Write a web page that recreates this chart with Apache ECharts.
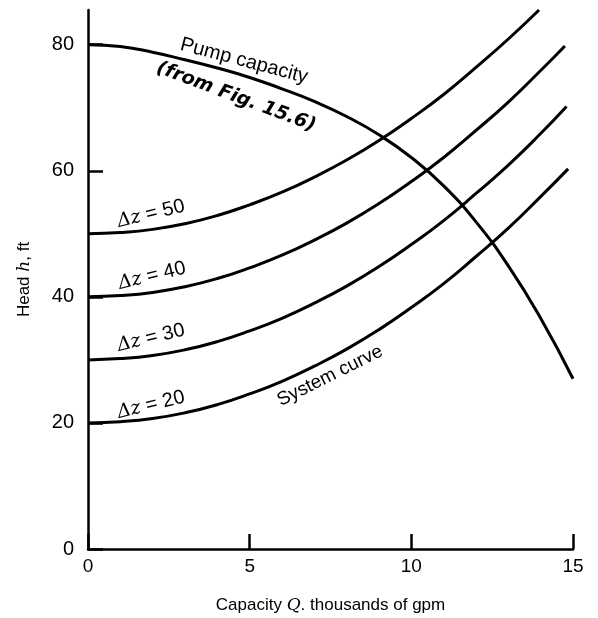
<!DOCTYPE html>
<html>
<head>
<meta charset="utf-8">
<script src="https://cdn.jsdelivr.net/npm/echarts@6/dist/echarts.min.js"></script>
<style>html,body{margin:0;padding:0;background:#fff;}#c{width:598px;height:618px;}</style>
</head>
<body>
<div id="c"></div>
<script>
// Capacity Q (thousands of gpm)
var pumpQ = [0, 1, 2, 3, 4, 5, 6, 7, 8, 9, 10, 11, 12, 13, 14, 15];
var pumpH = [80, 79.7, 78.8, 77.6, 76.3, 74.8, 73.0, 71.0, 68.6, 65.7, 62.1, 57.6, 51.9, 44.9, 36.6, 27.0];

var sysQ50 = [0, 1, 2, 3, 4, 5, 6, 7, 8, 9, 10, 11, 12, 13, 13.95];
var sysH50 = [50, 50.2, 50.7, 51.6, 52.9, 54.6, 56.6, 59.0, 61.7, 64.8, 68.3, 72.1, 76.4, 80.9, 85.5];
var sysQ40 = [0, 1, 2, 3, 4, 5, 6, 7, 8, 9, 10, 11, 12, 13, 14, 14.75];
var sysH40 = [40, 40.2, 40.7, 41.6, 42.9, 44.6, 46.6, 49.0, 51.7, 54.8, 58.3, 62.1, 66.4, 70.9, 75.9, 79.8];
var sysQ30 = [0, 1, 2, 3, 4, 5, 6, 7, 8, 9, 10, 11, 12, 13, 14, 14.8];
var sysH30 = [30, 30.2, 30.7, 31.6, 32.9, 34.6, 36.6, 39.0, 41.7, 44.8, 48.3, 52.1, 56.4, 60.9, 65.9, 70.2];
var sysQ20 = [0, 1, 2, 3, 4, 5, 6, 7, 8, 9, 10, 11, 12, 13, 14, 14.85];
var sysH20 = [20, 20.2, 20.7, 21.6, 22.9, 24.6, 26.6, 29.0, 31.7, 34.8, 38.3, 42.1, 46.4, 50.9, 55.9, 60.3];

var xTicks = [0, 5, 10, 15];
var yTicks = [0, 20, 40, 60, 80];
var dzLabels = ['50', '40', '30', '20'];

function pairs(xs, ys) { return xs.map(function (x, i) { return [x, ys[i]]; }); }

var chart = echarts.init(document.getElementById('c'));
var sans = "'Liberation Sans', Arial, sans-serif";
var serif = "'DejaVu Serif', serif";
var lineStyle = { color: '#000', width: 3 };

function dzText(label, x, y) {
  return {
    type: 'text', x: x, y: y, rotation: 0.24,
    style: {
      text: '{d|Δz} = ' + label, x: 0, y: 0, align: 'center', verticalAlign: 'middle',
      fontSize: 20, fontFamily: sans, fill: '#000',
      rich: { d: { fontSize: 19, fontFamily: serif, fontStyle: 'italic', fill: '#000' } }
    }
  };
}

function curve(xs, ys) {
  return { type: 'line', data: pairs(xs, ys), smooth: 0.5, symbol: 'none', lineStyle: lineStyle };
}

var option = {
  backgroundColor: '#fff',
  animation: false,
  grid: { left: 88, right: 25, top: 10, bottom: 69, containLabel: false, outerBoundsMode: 'none' },
  xAxis: {
    type: 'value', min: 0, max: 15,
    name: '{n|Capacity }{i|Q}{n|. thousands of gpm}',
    nameLocation: 'middle', nameGap: 48,
    nameTextStyle: {
      rich: {
        n: { fontSize: 17, fontFamily: sans, color: '#000' },
        i: { fontSize: 17, fontFamily: serif, fontStyle: 'italic', color: '#000' }
      }
    },
    axisLine: { lineStyle: { color: '#000', width: 2.5 } },
    axisTick: { inside: true, length: 15, customValues: xTicks, lineStyle: { color: '#000', width: 2.5 } },
    axisLabel: { customValues: xTicks, color: '#000', fontSize: 19, fontFamily: sans, margin: 8 },
    splitLine: { show: false }
  },
  yAxis: {
    type: 'value', min: 0, max: 85.5,
    name: '{n|Head }{i|h}{n|, ft}',
    nameLocation: 'middle', nameGap: 55,
    nameTextStyle: {
      rich: {
        n: { fontSize: 17, fontFamily: sans, color: '#000' },
        i: { fontSize: 17, fontFamily: serif, fontStyle: 'italic', color: '#000' }
      }
    },
    axisLine: { lineStyle: { color: '#000', width: 2.5 } },
    axisTick: { inside: true, length: 15, customValues: yTicks, lineStyle: { color: '#000', width: 2.5 } },
    axisLabel: { customValues: yTicks, color: '#000', fontSize: 20, fontFamily: sans, margin: 14 },
    splitLine: { show: false }
  },
  series: [
    curve(pumpQ, pumpH),
    curve(sysQ50, sysH50),
    curve(sysQ40, sysH40),
    curve(sysQ30, sysH30),
    curve(sysQ20, sysH20)
  ],
  graphic: [
    { type: 'text', x: 244, y: 61, rotation: -0.26,
      style: { text: 'Pump capacity', x: 0, y: 0, align: 'center', verticalAlign: 'middle', fontSize: 20, fontFamily: sans, fill: '#000' } },
    { type: 'text', x: 236, y: 97, rotation: -0.36,
      style: { text: '(from Fig. 15.6)', x: 0, y: 0, align: 'center', verticalAlign: 'middle', fontSize: 19, fontFamily: "'DejaVu Sans', sans-serif", fontStyle: 'italic', fontWeight: 'bold', fill: '#000' } },
    dzText(dzLabels[0], 151, 214),
    dzText(dzLabels[1], 152, 276),
    dzText(dzLabels[2], 151, 338),
    dzText(dzLabels[3], 151, 405),
    { type: 'text', x: 330, y: 376, rotation: 0.46,
      style: { text: 'System curve', x: 0, y: 0, align: 'center', verticalAlign: 'middle', fontSize: 19, fontFamily: sans, fill: '#000' } }
  ]
};
chart.setOption(option);
</script>
</body>
</html>
